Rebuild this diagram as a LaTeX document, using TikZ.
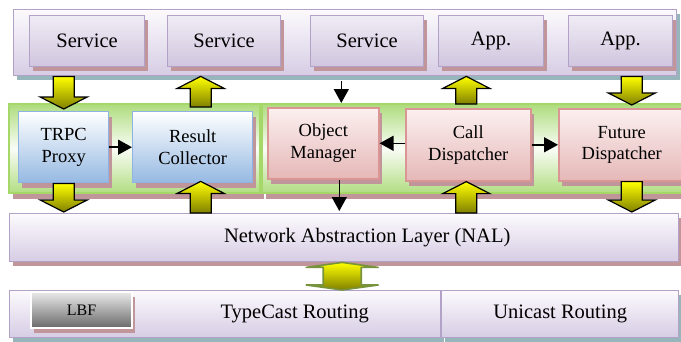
\documentclass[tikz,border=0pt]{standalone}
\usepackage{fontspec}
\setmainfont{Liberation Serif}
\usetikzlibrary{arrows.meta,calc,positioning,shadows}
\definecolor{lavline}{RGB}{178,162,199}
\definecolor{lavtop}{RGB}{252,250,253}
\definecolor{lavbot}{RGB}{214,204,228}
\definecolor{svctop}{RGB}{240,236,245}
\definecolor{svcbot}{RGB}{208,197,222}
\definecolor{blueline}{RGB}{141,179,226}
\definecolor{bluebot}{RGB}{149,184,226}
\definecolor{pinkline}{RGB}{217,150,148}
\definecolor{pinktop}{RGB}{252,240,240}
\definecolor{pinkbot}{RGB}{229,184,183}
\definecolor{bandgreen}{RGB}{146,208,80}
\definecolor{bandline}{RGB}{165,216,105}
\definecolor{brick}{RGB}{192,150,155}
\definecolor{shadowteal}{RGB}{150,182,188}
\definecolor{arryellow}{RGB}{255,255,0}
\definecolor{arrolive}{RGB}{128,128,0}
\definecolor{dblline}{RGB}{119,147,60}
\definecolor{lbftop}{RGB}{234,234,234}
\definecolor{lbfbot}{RGB}{105,105,105}
\pgfdeclareverticalshading{greenglow}{100bp}{color(0bp)=(bandgreen); color(14bp)=(bandgreen); color(50bp)=(white!95!bandgreen); color(84bp)=(bandgreen); color(100bp)=(bandgreen)}
\tikzset{%
	bigfont/.style  = {font=\fontsize{20.5}{24}\selectfont},
	midfont/.style  = {font=\fontsize{18.5}{21.5}\selectfont},
	box/.style      = {rectangle, anchor=north west, inner sep=0pt, align=center},
	band/.style     = {box, bigfont, draw=lavline, line width=1.4pt, top color=lavtop, bottom color=lavbot, general shadow={fill=shadowteal, shadow xshift=3pt, shadow yshift=-4pt}},
	nalband/.style  = {box, draw=lavline, line width=1.4pt, top color=lavtop, bottom color=lavbot, general shadow={fill=brick, shadow xshift=3pt, shadow yshift=-4pt}},
	svcbox/.style   = {box, bigfont, draw=lavline, line width=1.2pt, top color=svctop, bottom color=svcbot, general shadow={fill=brick, shadow xshift=3pt, shadow yshift=-4pt}},
	greenband/.style= {box, draw=bandline, line width=1.6pt, shading=greenglow, general shadow={fill=brick, shadow xshift=4pt, shadow yshift=-6pt}},
	bluebox/.style  = {box, midfont, draw=blueline, line width=1.4pt, top color=white, bottom color=bluebot, general shadow={fill=brick, shadow xshift=3pt, shadow yshift=-5pt}},
	pinkbox/.style  = {box, midfont, draw=pinkline, line width=1.6pt, top color=pinktop, bottom color=pinkbot, general shadow={fill=brick, shadow xshift=3pt, shadow yshift=-5pt}},
	lbfbox/.style   = {box, font=\fontsize{16}{19}\selectfont, draw=white, line width=2pt, top color=lbftop, bottom color=lbfbot, general shadow={fill=brick, shadow xshift=3pt, shadow yshift=-5pt}},
	blockarr/.style = {draw=black, line width=1.2pt, line join=miter, top color=arryellow, middle color=arryellow!85!arrolive, bottom color=arrolive},
	dblarr/.style   = {draw=dblline, line width=1.6pt, line join=round, top color=arryellow, bottom color=arrolive},
	thinarr/.style  = {line width=1.5pt, -{Triangle[length=14pt,width=15pt]}},
}
\newcommand{\blockarrow}[2]{%
	\path[blockarr] let \p1=(#1), \p2=(#2), \n1={ifthenelse(\y2>\y1,1,-1)} in
		({\x1-10.5pt},\y1) -- ({\x1-10.5pt},{\y2-(\n1)*12pt}) -- ({\x1-23.5pt},{\y2-(\n1)*12pt}) -- (\x1,\y2)
		-- ({\x1+23.5pt},{\y2-(\n1)*12pt}) -- ({\x1+10.5pt},{\y2-(\n1)*12pt}) -- ({\x1+10.5pt},\y1) -- cycle;
}

\begin{document}
\begin{tikzpicture}[x=1pt,y=-1pt]
	\useasboundingbox (0,0) rectangle (681,341);
	\node[band, minimum width=663, minimum height=66] (svcband) at (13,9) {};
	\node[svcbox, minimum width=115, minimum height=51] (svcA) at (29,15) {Service};
	\node[svcbox, minimum width=113, minimum height=51] (svcB) at (167,15) {Service};
	\node[svcbox, minimum width=113, minimum height=51] (svcC) at (310,15) {Service};
	\node[svcbox, minimum width=105, minimum height=51] (appA) at (438,15) {App.};
	\node[svcbox, minimum width=104, minimum height=51] (appB) at (568,15) {App.};
	
	\node[greenband, minimum width=251, minimum height=89] (lgreen) at (8,103) {};
	\node[greenband, minimum width=429, minimum height=89] (rgreen) at (261,103) {};
	\node[bluebox, minimum width=90, minimum height=71] (proxy) at (18,111) {TRPC\\Proxy};
	\node[bluebox, minimum width=120, minimum height=71] (collector) at (132,111) {Result\\Collector};
	\node[pinkbox, minimum width=111, minimum height=71] (objmgr) at (267,107) {Object\\Manager};
	\node[pinkbox, minimum width=125, minimum height=72] (calldisp) at (405,108) {Call\\Dispatcher};
	\node[pinkbox, minimum width=126, minimum height=72] (futdisp) at (558,108) {Future\\Dispatcher};
	
	\node[nalband, minimum width=669, minimum height=48, label={[bigfont,xshift=23pt]center:Network Abstraction Layer (NAL)}] (nal) at (9,213) {};
	\node[band, minimum width=431, minimum height=47, label={[bigfont,xshift=69.5pt]center:TypeCast Routing}] (typecast) at (9,290) {};
	\node[band, minimum width=237, minimum height=47] (unicast) at (441,290) {Unicast Routing};
	\node[lbfbox, minimum width=101, minimum height=36] (lbf) at (30,291) {LBF};
	
	\blockarrow{proxy.north |- svcband.south}{$(proxy.north)+(0,-2)$}
	\blockarrow{$(collector.north)+(8,-4)$}{collector.north |- svcband.south}
	\draw[thinarr] ($(objmgr.north |- svcband.south)+(18,5)$) -- ($(objmgr.north |- rgreen.north)+(18,0)$);
	\blockarrow{$(calldisp.north)+(-2,-4)$}{calldisp.north |- svcband.south}
	\blockarrow{$(futdisp.north |- svcband.south)+(10,0)$}{$(futdisp.north)+(10,-3)$}
	
	\draw[thinarr] (proxy) -- (collector);
	\draw[thinarr] (objmgr.east -| calldisp.west) -- (objmgr.east);
	\draw[thinarr] (calldisp.east) -- (calldisp.east -| futdisp.west);
	
	\blockarrow{proxy.south}{$(proxy.south |- nal.north)+(0,-1)$}
	\blockarrow{$(collector.south |- nal.north)+(8,0)$}{$(collector.south)+(8,-2)$}
	\draw[thinarr] ($(objmgr.south)+(16,0)$) -- ($(objmgr.south |- nal.north)+(16,-2)$);
	\blockarrow{$(calldisp.south |- nal.north)+(-2,0)$}{$(calldisp.south)+(-2,0)$}
	\blockarrow{$(futdisp.south)+(10,0)$}{$(futdisp.south |- nal.north)+(10,-1)$}
	
	\path[dblarr] let \p1=($(nal.south)+(-2,0)$), \p2=(typecast.north) in
		(\x1,\y1) -- ({\x1+36pt},{\y1-5pt}) -- ({\x1+19pt},{\y1-5pt}) -- ({\x1+19pt},{\y2+5pt}) -- ({\x1+36pt},{\y2+5pt})
		-- (\x1,\y2) -- ({\x1-36pt},{\y2+5pt}) -- ({\x1-19pt},{\y2+5pt}) -- ({\x1-19pt},{\y1-5pt}) -- ({\x1-36pt},{\y1-5pt}) -- cycle;
\end{tikzpicture}
\end{document}
